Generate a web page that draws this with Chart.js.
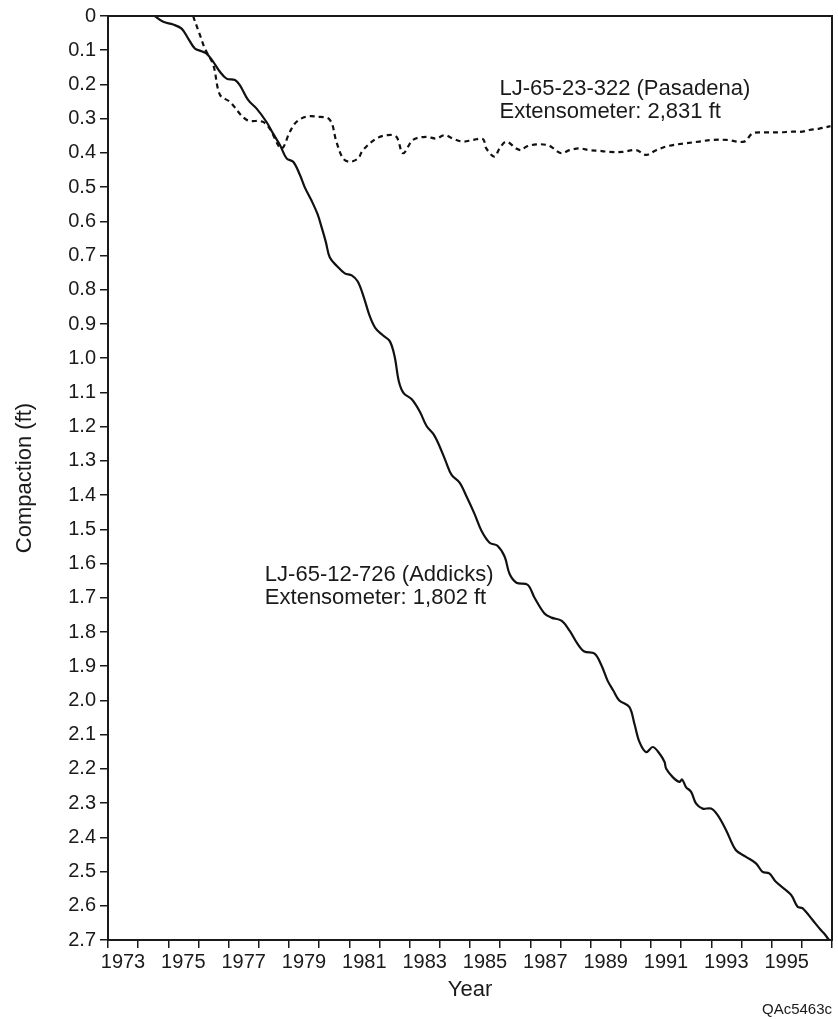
<!DOCTYPE html>
<html>
<head>
<meta charset="utf-8">
<title>Compaction</title>
<script src="https://cdn.jsdelivr.net/npm/chart.js@4.4.1/dist/chart.umd.min.js"></script>
<style>
  html, body { margin: 0; padding: 0; background: #fff; }
  #wrap { width: 838px; height: 1019px; position: relative; }
</style>
</head>
<body>
<div id="wrap"><canvas id="chart"></canvas></div>
<script>
'use strict';

/* ── Data ───────────────────────────────────────────────────────────── */
// LJ-65-12-726 (Addicks), solid line
const addicksYears = [
  1974.55, 1974.83, 1975.16, 1975.44, 1975.66, 1975.88, 1976.10, 1976.27,
  1976.49, 1976.71, 1976.93, 1977.21, 1977.37, 1977.65, 1977.92, 1978.25,
  1978.47, 1978.70, 1978.92, 1979.14, 1979.36, 1979.52, 1979.75, 1979.95,
  1980.09, 1980.22, 1980.35, 1980.58, 1980.85, 1981.08, 1981.28, 1981.48,
  1981.68, 1981.87, 1982.11, 1982.34, 1982.50, 1982.64, 1982.80, 1983.07,
  1983.33, 1983.56, 1983.79, 1983.99, 1984.19, 1984.39, 1984.66, 1984.89,
  1985.15, 1985.38, 1985.65, 1985.91, 1986.15, 1986.31, 1986.54, 1986.91,
  1987.14, 1987.47, 1987.70, 1988.03, 1988.30, 1988.56, 1988.79, 1989.13,
  1989.36, 1989.56, 1989.75, 1989.95, 1990.28, 1990.45, 1990.62, 1990.84,
  1991.06, 1991.28, 1991.45, 1991.50, 1991.72, 1991.94, 1992.03, 1992.16,
  1992.33, 1992.49, 1992.71, 1992.99, 1993.21, 1993.49, 1993.81, 1994.15,
  1994.48, 1994.70, 1994.92, 1995.14, 1995.64, 1995.86, 1996.02, 1996.35,
  1996.63, 1996.74, 1996.90,
];
const addicksComp = [
  0.000, 0.017, 0.025, 0.037, 0.066, 0.095, 0.103, 0.110,
  0.134, 0.163, 0.183, 0.187, 0.202, 0.246, 0.270, 0.309,
  0.343, 0.377, 0.416, 0.426, 0.464, 0.500, 0.540, 0.580,
  0.620, 0.660, 0.705, 0.730, 0.752, 0.758, 0.776, 0.822,
  0.878, 0.913, 0.933, 0.950, 0.994, 1.067, 1.102, 1.120,
  1.155, 1.198, 1.222, 1.257, 1.300, 1.341, 1.364, 1.405,
  1.455, 1.504, 1.539, 1.548, 1.580, 1.630, 1.656, 1.662,
  1.700, 1.746, 1.758, 1.767, 1.796, 1.834, 1.857, 1.863,
  1.898, 1.942, 1.971, 2.000, 2.019, 2.068, 2.122, 2.151,
  2.136, 2.155, 2.180, 2.199, 2.224, 2.238, 2.231, 2.253,
  2.267, 2.301, 2.316, 2.316, 2.335, 2.379, 2.437, 2.457,
  2.476, 2.501, 2.505, 2.530, 2.568, 2.603, 2.607, 2.641,
  2.671, 2.681, 2.700,
];

// LJ-65-23-322 (Pasadena), dashed line
const pasadenaYears = [
  1975.82, 1976.05, 1976.21, 1976.49, 1976.71, 1977.04, 1977.59, 1978.13,
  1978.36, 1978.75, 1979.03, 1979.25, 1979.58, 1979.91, 1980.35, 1980.57,
  1980.79, 1981.01, 1981.29, 1981.45, 1981.90, 1982.28, 1982.56, 1982.78,
  1983.11, 1983.55, 1983.88, 1984.16, 1984.43, 1984.76, 1985.10, 1985.43,
  1985.54, 1985.81, 1985.98, 1986.20, 1986.53, 1986.70, 1986.86, 1987.20,
  1987.58, 1987.69, 1988.02, 1988.30, 1988.63, 1988.96, 1989.29, 1989.62,
  1990.06, 1990.51, 1990.84, 1991.17, 1991.61, 1992.16, 1992.60, 1993.04,
  1993.49, 1994.09, 1994.37, 1994.81, 1995.25, 1995.69, 1996.02, 1996.25,
  1996.58, 1996.95,
];
const pasadenaComp = [
  0.000, 0.056, 0.095, 0.143, 0.230, 0.251, 0.303, 0.309,
  0.329, 0.387, 0.338, 0.309, 0.294, 0.294, 0.303, 0.367,
  0.416, 0.426, 0.416, 0.392, 0.358, 0.348, 0.353, 0.401,
  0.362, 0.353, 0.358, 0.348, 0.358, 0.367, 0.362, 0.360,
  0.387, 0.411, 0.387, 0.367, 0.387, 0.392, 0.382, 0.375,
  0.377, 0.382, 0.401, 0.392, 0.387, 0.392, 0.394, 0.397,
  0.397, 0.392, 0.406, 0.392, 0.379, 0.372, 0.367, 0.362,
  0.362, 0.367, 0.343, 0.340, 0.340, 0.338, 0.338, 0.333,
  0.329, 0.322,
];

/* ── Axes ───────────────────────────────────────────────────────────── */
const YEAR_MIN = 1973;
const YEAR_MAX = 1997;
const COMP_MIN = 0;
const COMP_MAX = 2.7;
const COMP_STEP = 0.1;

/* ── Texts ──────────────────────────────────────────────────────────── */
const X_TITLE = 'Year';
const Y_TITLE = 'Compaction (ft)';
const CREDIT  = 'QAc5463c';
const NOTES = [
  { year: 1985.98, comp: 0.230, lines: ['LJ-65-23-322 (Pasadena)', 'Extensometer: 2,831 ft'] },
  { year: 1978.20, comp: 1.650, lines: ['LJ-65-12-726 (Addicks)', 'Extensometer: 1,802 ft'] },
];

/* ── Design tokens ──────────────────────────────────────────────────── */
const C = {
  ink:  '#1a1a1a',
  line: '#111111',
};
const FONT = '"Liberation Sans", Arial, Helvetica, sans-serif';

const toPoints = (xs, ys) => xs.map((x, i) => ({ x, y: ys[i] }));

// odd years only, none on the closing edge
const yearLabel = v => (v % 2 === 1 && v < YEAR_MAX ? String(v) : '');

/* ── Frame, notes and credit ────────────────────────────────────────── */
const framePlugin = {
  id: 'frame',
  afterDraw(chart) {
    const { ctx, chartArea: a, scales: { x, y } } = chart;
    ctx.save();
    ctx.strokeStyle = C.ink;
    ctx.lineWidth = 2;
    ctx.strokeRect(a.left, a.top, a.right - a.left, a.bottom - a.top);

    ctx.fillStyle = C.ink;
    ctx.textAlign = 'left';
    ctx.textBaseline = 'alphabetic';
    ctx.font = `22px ${FONT}`;
    NOTES.forEach(n => {
      const px = x.getPixelForValue(n.year);
      const py = y.getPixelForValue(n.comp);
      n.lines.forEach((t, i) => ctx.fillText(t, px, py + i * 23));
    });

    ctx.font = `15px ${FONT}`;
    ctx.textAlign = 'right';
    ctx.fillText(CREDIT, a.right, chart.height - 5);
    ctx.restore();
  },
};

new Chart(document.getElementById('chart'), {
  type: 'line',
  data: {
    datasets: [
      {
        label: 'LJ-65-12-726 (Addicks)',
        data: toPoints(addicksYears, addicksComp),
        borderColor: C.line,
        borderWidth: 2.2,
        pointRadius: 0,
        tension: 0.35,
        fill: false,
      },
      {
        label: 'LJ-65-23-322 (Pasadena)',
        data: toPoints(pasadenaYears, pasadenaComp),
        borderColor: C.line,
        borderWidth: 2.2,
        borderDash: [5, 4],
        pointRadius: 0,
        tension: 0.35,
        fill: false,
      },
    ],
  },
  options: {
    responsive: true,
    maintainAspectRatio: false,
    animation: false,
    layout: { padding: { top: 14, right: 6, bottom: 0, left: 0 } },
    plugins: {
      legend:  { display: false },
      tooltip: { enabled: false },
    },
    scales: {
      x: {
        type: 'linear',
        min: YEAR_MIN,
        max: YEAR_MAX,
        afterFit: s => { s.height = 79; },
        grid:   { drawOnChartArea: false, drawTicks: true, tickLength: 8, color: C.ink, lineWidth: 1.5 },
        border: { color: C.ink, width: 2 },
        ticks: {
          stepSize: 1,
          autoSkip: false,
          maxRotation: 0,
          padding: 2,
          labelOffset: 15,
          color: C.ink,
          font: { family: FONT, size: 20 },
          callback: yearLabel,
        },
        title: {
          display: true,
          text: X_TITLE,
          color: C.ink,
          font: { family: FONT, size: 22 },
          padding: { top: 0, bottom: 16 },
        },
      },
      y: {
        type: 'linear',
        reverse: true,
        min: COMP_MIN,
        max: COMP_MAX,
        afterFit: s => { s.width = 108; },
        grid:   { drawOnChartArea: false, drawTicks: true, tickLength: 8, color: C.ink, lineWidth: 1.5 },
        border: { color: C.ink, width: 2 },
        ticks: {
          stepSize: COMP_STEP,
          autoSkip: false,
          padding: 4,
          color: C.ink,
          font: { family: FONT, size: 20 },
          callback: v => (Math.abs(v) < 1e-9 ? '0' : Number(v).toFixed(1)),
        },
        title: {
          display: true,
          text: Y_TITLE,
          color: C.ink,
          font: { family: FONT, size: 22 },
          padding: { top: 12, bottom: 0 },
        },
      },
    },
  },
  plugins: [framePlugin],
});
</script>
</body>
</html>
